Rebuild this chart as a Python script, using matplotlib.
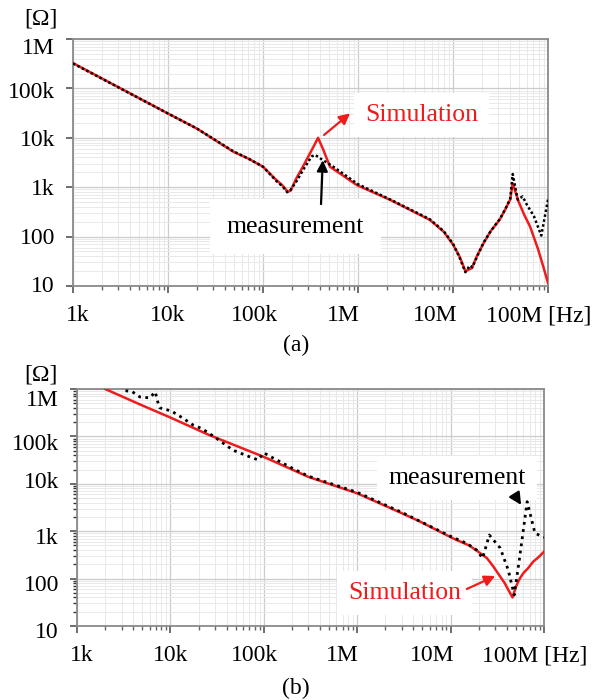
import matplotlib.pyplot as plt
import matplotlib.transforms as mtransforms

plt.rcParams['font.family'] = ['Liberation Serif', 'DejaVu Serif']

# (a) impedance vs frequency
freq_sim_a = [1e3, 1e4, 2e4, 4.9e4, 7e4, 1e5, 1.38e5, 1.58e5, 1.82e5, 1.95e5, 2.24e5, 2.63e5,
              3.4e5, 3.8e5, 4.3e5, 5.07e5, 9.75e5, 2.2e6, 5.7e6, 8e6, 1e7, 1.17e7, 1.35e7,
              1.58e7, 1.78e7, 2.1e7, 2.5e7, 3.1e7, 3.55e7, 4e7, 4.25e7, 4.9e7, 5.6e7, 6.5e7,
              7.9e7, 8.9e7, 1e8]
z_sim_a = [325e3, 31e3, 15.5e3, 5.2e3, 3.8e3, 2.6e3, 1.4e3, 1.12e3, 810, 850, 1.5e3, 2.6e3,
           6.6e3, 10e3, 5.8e3, 2.6e3, 1.1e3, 550, 218, 125, 69, 40, 20,
           23, 40, 74, 130, 220, 355, 560, 1.2e3, 510, 280, 157,
           54, 25, 11.5]

freq_meas_a = [1e3, 1e4, 2e4, 4.9e4, 7e4, 1e5, 1.4e5, 1.6e5, 1.8e5, 1.95e5, 2.3e5, 2.63e5,
               3.25e5, 3.55e5, 4.3e5, 5.5e5, 1e6, 2.2e6, 5.7e6, 8e6, 1e7, 1.17e7, 1.35e7,
               1.5e7, 1.6e7, 1.8e7, 2.1e7, 2.5e7, 3.1e7, 3.55e7, 4e7, 4.25e7, 4.8e7, 5.4e7,
               6e7, 7.1e7, 8.5e7, 1e8]
z_meas_a = [320e3, 31e3, 15.5e3, 5.3e3, 3.8e3, 2.6e3, 1.3e3, 1.05e3, 790, 880, 1.4e3, 2.2e3,
            4.2e3, 4.5e3, 3.5e3, 2.6e3, 1.15e3, 560, 225, 128, 72, 38, 19,
            26, 24, 40, 76, 130, 225, 360, 580, 1.85e3, 560, 650,
            440, 260, 105, 560]

# (b) impedance vs frequency
freq_sim_b = [2e3, 5e3, 1e4, 2.6e4, 1e5, 3e5, 1e6, 3e6, 4.7e6, 1.07e7, 1.58e7, 1.9e7, 2.45e7,
              2.88e7, 3.4e7, 3.8e7, 4.15e7, 4.6e7, 5e7, 5.25e7, 5.5e7, 6e7, 6.76e7, 7.7e7,
              8.7e7, 1e8]
z_sim_b = [1e6, 450e3, 250e3, 107e3, 37e3, 14e3, 6.3e3, 2.4e3, 1.6e3, 700, 500, 390, 270,
           178, 110, 80, 58, 40, 67, 83, 100, 130, 166, 230,
           280, 370]

freq_meas_b = [3.3e3, 3.9e3, 4.7e3, 6e3, 6.9e3, 7.2e3, 7.7e3, 9.2e3, 1.06e4, 1.35e4,
               1.74e4, 2.1e4, 2.5e4, 4.7e4, 7.6e4, 8.7e4, 1e5, 1.26e5, 2.05e5, 3e5,
               1e6, 3e6, 1e7, 1.5e7, 1.9e7, 2.2e7, 2.6e7, 3.4e7, 4.15e7, 4.8e7,
               5.5e7, 6.6e7, 8e7, 1e8]
z_meas_b = [920e3, 880e3, 680e3, 650e3, 870e3, 590e3, 400e3, 365e3, 330e3, 245e3,
            175e3, 150e3, 123e3, 51e3, 35e3, 32e3, 45e3, 35e3, 21e3, 14.5e3,
            6.6e3, 2.5e3, 780, 550, 400, 270, 830, 440, 150, 45,
            290, 4.2e3, 910, 740]

x_ticks = [1e3, 1e4, 1e5, 1e6, 1e7, 1e8]
x_labels = ['1k', '10k', '100k', '1M', '10M', '100M [Hz]']
x_shift_px = [5, 0, -9, -15, -18, -9]
y_ticks = [10, 100, 1e3, 1e4, 1e5, 1e6]
y_labels = ['10', '100', '1k', '10k', '100k', '1M']
y_shift_a = [-2, -1, 0, 0, 2, 7]
y_shift_b = [4, 4, 5, -4, 6, 9]

W, H = 594, 700
fig = plt.figure(figsize=(W / 100, H / 100), dpi=100)
ax_a = fig.add_axes([73 / W, 1 - 286 / H, 475 / W, 247 / H])
ax_b = fig.add_axes([77 / W, 1 - 626 / H, 467 / W, 237 / H])


def shift(lab, dx, dy):
    lab.set_transform(lab.get_transform() +
                      mtransforms.ScaledTranslation(dx / 100, -dy / 100, fig.dpi_scale_trans))


def setup(ax, left_minor, y_shift):
    ax.set_xscale('log')
    ax.set_yscale('log')
    ax.set_xlim(1e3, 1e8)
    ax.set_ylim(10, 1e6)
    ax.set_axisbelow(True)
    ax.grid(True, which='major', color='#cccccc', lw=0.9)
    ax.grid(True, which='minor', color='#e9e9e9', lw=0.7)
    for s in ax.spines.values():
        s.set_color('#8a8a8a')
        s.set_linewidth(1.3)
    ax.set_xticks(x_ticks, x_labels)
    ax.set_yticks(y_ticks, y_labels)
    ax.tick_params(axis='both', which='major', direction='out', length=5,
                   width=1.2, color='#555555', labelsize=17)
    ax.tick_params(axis='x', which='major', pad=9)
    ax.tick_params(axis='y', which='major', pad=8)
    ax.tick_params(axis='x', which='minor', direction='out', length=3,
                   width=1, color='#666666', labelbottom=False)
    if left_minor:
        ax.tick_params(axis='y', which='minor', direction='out', length=3,
                       width=1, color='#333333', labelleft=False)
    else:
        ax.tick_params(axis='y', which='minor', length=0, labelleft=False)
    for lab, dx in zip(ax.get_xticklabels(), x_shift_px):
        shift(lab, dx, 0)
    for lab, dy in zip(ax.get_yticklabels(), y_shift):
        shift(lab, 0, dy)


setup(ax_a, False, y_shift_a)
setup(ax_b, True, y_shift_b)

red = '#ee1c1c'
box = dict(facecolor='white', edgecolor='none', pad=8)

# (a)
ax_a.plot(freq_sim_a, z_sim_a, color=red, lw=1.8, zorder=3)
ax_a.plot(freq_meas_a, z_meas_a, color='black', lw=1.8, ls=(0, (1, 1)), zorder=4)
ax_a.text(1.18e6, 29e3, 'Simulation', color=red, fontsize=18.5, ha='left', va='center',
          bbox=box, zorder=2)
ax_a.annotate('', xy=(8.7e5, 34e3), xytext=(4.17e5, 10.5e3),
              arrowprops=dict(arrowstyle='-|>', color=red, lw=1.6, mutation_scale=16),
              zorder=5)
ax_a.text(2.2e5, 158, 'measurement', color='black', fontsize=18.5, ha='center', va='center',
          bbox=dict(facecolor='white', edgecolor='none', pad=12), zorder=2)
ax_a.annotate('', xy=(4.27e5, 4.0e3), xytext=(4.07e5, 400),
              arrowprops=dict(arrowstyle='-|>', color='black', lw=1.6, mutation_scale=16),
              zorder=5)

# (b)
ax_b.plot(freq_sim_b, z_sim_b, color=red, lw=1.8, zorder=3)
ax_b.plot(freq_meas_b, z_meas_b, color='black', lw=2, ls=(0, (1, 1.6)), zorder=4)
ax_b.text(1.17e7, 13e3, 'measurement', color='black', fontsize=18.5, ha='center', va='center',
          bbox=box, zorder=2)
ax_b.annotate('', xy=(5.9e7, 3.2e3), xytext=(4.7e7, 6.5e3),
              arrowprops=dict(arrowstyle='-|>', color='black', lw=1.6, mutation_scale=18),
              zorder=5)
ax_b.text(3.2e6, 50, 'Simulation', color=red, fontsize=18.5, ha='center', va='center',
          bbox=box, zorder=2)
ax_b.annotate('', xy=(3.2e7, 120), xytext=(1.4e7, 57),
              arrowprops=dict(arrowstyle='-|>', color=red, lw=1.6, mutation_scale=16),
              zorder=5)

fig.text(41 / W, 1 - 19 / H, '[Ω]', fontsize=17, ha='center', va='center')
fig.text(41 / W, 1 - 375 / H, '[Ω]', fontsize=17, ha='center', va='center')
fig.text(296 / W, 1 - 345 / H, '(a)', fontsize=17, ha='center', va='center')
fig.text(296 / W, 1 - 688 / H, '(b)', fontsize=17, ha='center', va='center')

fig.savefig('out.png', dpi=100)
